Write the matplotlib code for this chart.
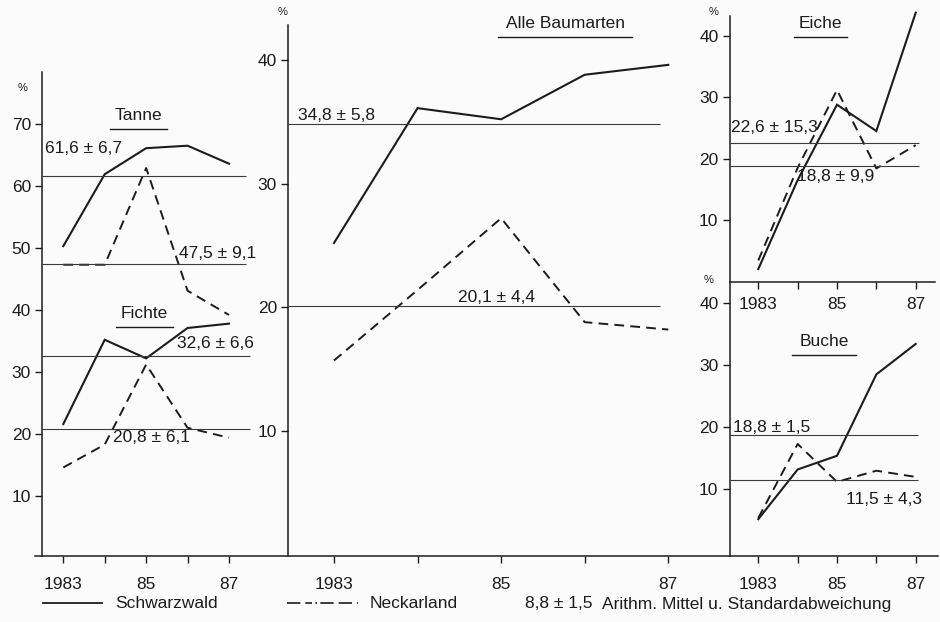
import matplotlib
matplotlib.use("Agg")
import matplotlib.pyplot as plt
from matplotlib.lines import Line2D
import numpy as np

plt.rcParams['font.family'] = ['Liberation Sans', 'DejaVu Sans']
plt.rcParams['font.size'] = 12.5

# data (percent per year)
years = [1983, 1984, 1985, 1986, 1987]
year_labels = ['1983', '', '85', '', '87']

tanne_sw = [50.3, 61.9, 66.1, 66.5, 63.6]
tanne_nl = [47.3, 47.3, 62.9, 43.1, 39.2]
tanne_means = [61.6, 47.5]

fichte_sw = [21.6, 35.2, 32.2, 37.1, 37.8]
fichte_nl = [14.6, 18.3, 31.2, 21.0, 19.4]
fichte_means = [32.6, 20.8]

alle_sw = [25.2, 36.1, 35.2, 38.8, 39.6]
alle_nl = [15.7, 21.4, 27.2, 18.8, 18.2]
alle_means = [34.8, 20.1]

eiche_sw = [2.0, 16.5, 28.8, 24.5, 43.8]
eiche_nl = [3.4, 18.5, 31.2, 18.4, 22.2]
eiche_means = [22.6, 18.8]

buche_sw = [5.2, 13.2, 15.4, 28.5, 33.4]
buche_nl = [5.4, 17.3, 11.2, 13.0, 12.0]
buche_means = [18.8, 11.5]

W, H = 940, 622
INK = '#1c1c1c'
THIN = '#3a3a3a'
DASH = (5, 3.2)

fig = plt.figure(figsize=(W / 100, H / 100), dpi=100)
fig.patch.set_facecolor('#fbfbfb')


def make_axes(x0, x1, x83, x87, yb, ytop, y0, pxu, yticks, pad_x=10):
    # axes placed in pixel space, limits chosen so data lands where the scan has it
    ax = fig.add_axes([x0 / W, 1 - yb / H, (x1 - x0) / W, (yb - ytop) / H])
    ppy = (x87 - x83) / 4.0
    ax.set_xlim(1983 + (x0 - x83) / ppy, 1983 + (x1 - x83) / ppy)
    ax.set_ylim((y0 - yb) / pxu, (y0 - ytop) / pxu)
    ax.patch.set_alpha(0)
    for s in ['top', 'right', 'bottom']:
        ax.spines[s].set_visible(False)
    ax.spines['left'].set_color(INK)
    ax.spines['left'].set_linewidth(1.1)
    ax.set_xticks(years)
    ax.set_xticklabels(year_labels)
    ax.set_yticks(yticks)
    ax.tick_params(axis='x', direction='out', length=5, width=1, color=INK,
                   pad=pad_x, labelcolor=INK, labelsize=12.5)
    ax.tick_params(axis='y', direction='out', length=5, width=1, color=INK,
                   pad=3, labelcolor=INK, labelsize=12.5)
    return ax


def series(ax, sw, nl):
    ax.plot(years, sw, color=INK, lw=1.5, clip_on=False, solid_joinstyle='miter')
    ax.plot(years, nl, color=INK, lw=1.4, dashes=DASH, clip_on=False)


def means(ax, vals, x_end):
    for v in vals:
        ax.hlines(v, ax.get_xlim()[0], x_end, color=THIN, lw=0.8)


# left: Tanne + Fichte
ax_l = make_axes(42, 290, 63.3, 229, 556, 72, 558, 6.2, [10, 20, 30, 40, 50, 60, 70])
series(ax_l, tanne_sw, tanne_nl)
series(ax_l, fichte_sw, fichte_nl)
means(ax_l, tanne_means, 1987.4)
means(ax_l, fichte_means, 1987.5)

# middle: Alle Baumarten
ax_m = make_axes(288, 729, 334, 668.3, 556, 25, 554.7, 12.37, [10, 20, 30, 40])
series(ax_m, alle_sw, alle_nl)
means(ax_m, alle_means, 1986.9)

# right top: Eiche
ax_e = make_axes(729.5, 935, 758.3, 915.7, 282, 16, 281.3, 6.133, [10, 20, 30, 40], pad_x=6)
ax_e.spines['bottom'].set_visible(True)
ax_e.spines['bottom'].set_color(INK)
ax_e.spines['bottom'].set_linewidth(1.1)
series(ax_e, eiche_sw, eiche_nl)
means(ax_e, eiche_means, 1987.08)

# right bottom: Buche
ax_b = make_axes(729.5, 935, 758.3, 915.7, 556, 282, 551.5, 6.215, [10, 20, 30, 40])
series(ax_b, buche_sw, buche_nl)
means(ax_b, buche_means, 1987.06)

# common baseline
fig.add_artist(Line2D([35 / W, 938 / W], [1 - 556 / H] * 2, color=INK, lw=1.1))


def ptext(x, y, s, size=12.5, **kw):
    fig.text(x / W, 1 - y / H, s, fontsize=size, color=INK, va='center', **kw)


def title(x0, x1, y, s, yline):
    ptext((x0 + x1) / 2, y, s, ha='center')
    fig.add_artist(Line2D([x0 / W, x1 / W], [1 - yline / H] * 2, color=INK, lw=1.0))


title(110, 167, 116, 'Tanne', 129)
title(116, 173, 314, 'Fichte', 327)
title(498, 632, 23, 'Alle Baumarten', 37)
title(794, 847, 24, 'Eiche', 37)
title(792, 856, 342, 'Buche', 355)

ptext(45, 148, '61,6 ± 6,7')
ptext(179, 253, '47,5 ± 9,1')
ptext(177, 343, '32,6 ± 6,6')
ptext(113, 438, '20,8 ± 6,1')
ptext(298, 116, '34,8 ± 5,8')
ptext(458, 297, '20,1 ± 4,4')
ptext(731, 128, '22,6 ± 15,3')
ptext(797, 177, '18,8 ± 9,9')
ptext(733, 427, '18,8 ± 1,5')
ptext(846, 500, '11,5 ± 4,3')

for x, y in [(23, 88), (283, 12), (714, 12), (709, 280)]:
    ptext(x, y, '%', size=8, ha='center')

# legend row
fig.add_artist(Line2D([43 / W, 102 / W], [1 - 603 / H] * 2, color=INK, lw=1.3))
ptext(115, 604, 'Schwarzwald')
fig.add_artist(Line2D([287 / W, 358 / W], [1 - 603 / H] * 2, color=INK, lw=1.2,
                      dashes=[8, 3, 4, 2, 1, 2, 8, 3, 8, 3]))
ptext(370, 604, 'Neckarland')
ptext(525, 604, '8,8 ± 1,5')
ptext(602, 604, 'Arithm. Mittel u. Standardabweichung')

fig.savefig('out.png', dpi=100, facecolor=fig.get_facecolor())
